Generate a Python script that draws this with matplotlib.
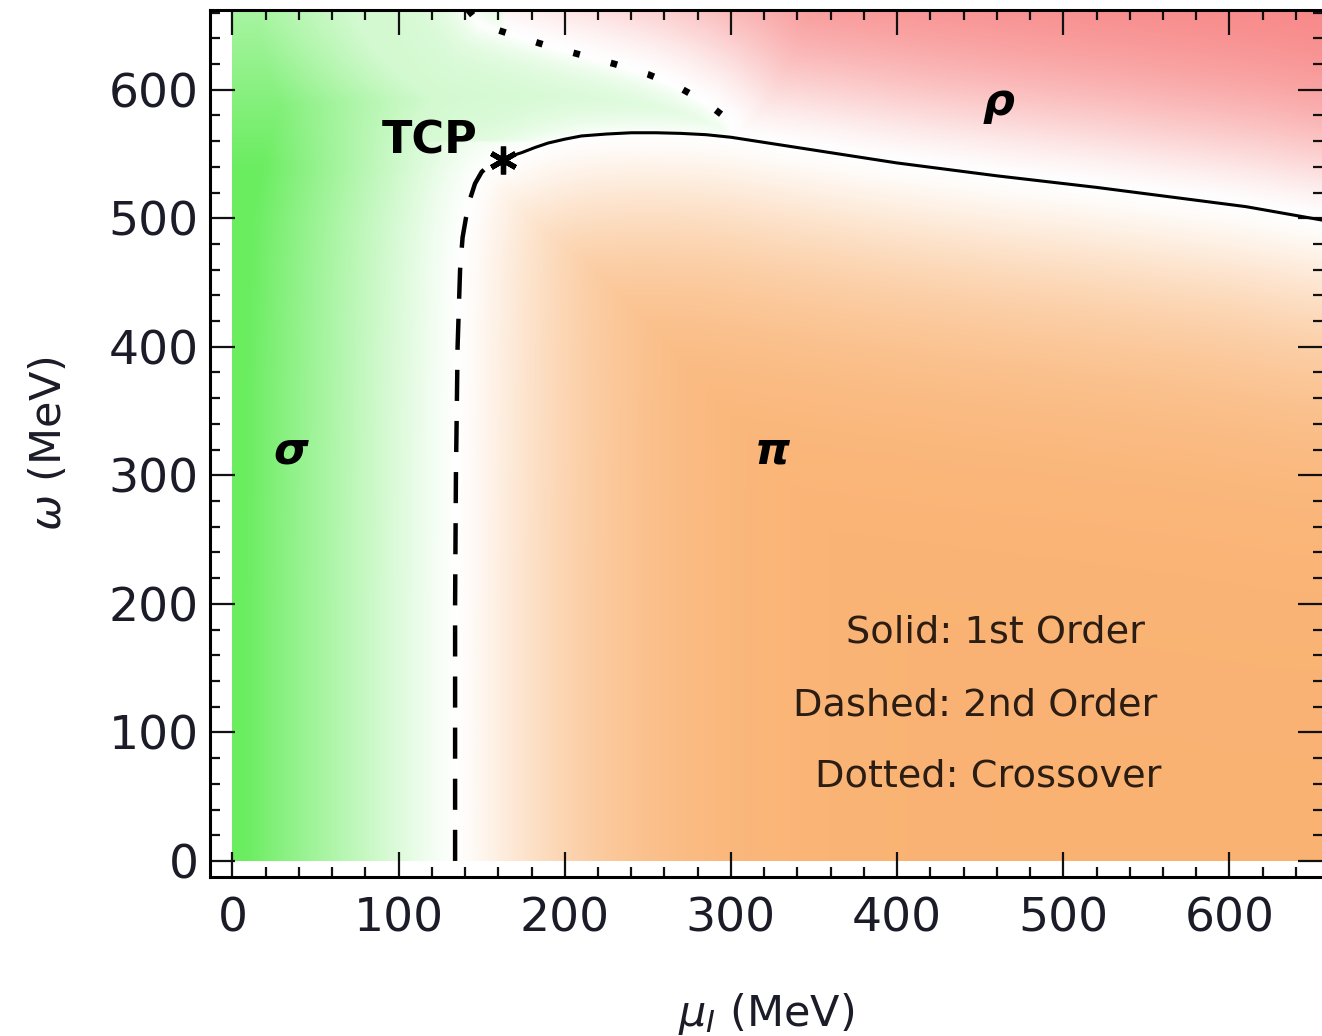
import numpy as np
import matplotlib.pyplot as plt

# Phase boundaries (MeV)
dashedY = [0, 100, 200, 300, 400, 460, 485, 500, 515, 527, 536, 542, 545]
dashedX = [134, 134, 134, 134.5, 135.5, 137, 138.5, 140.5, 143, 146, 150, 155, 163]

solidX = [163, 168, 174, 182, 190, 200, 210, 225, 240, 255, 270, 285, 300, 315,
          330, 350, 375, 400, 430, 460, 490, 520, 550, 580, 610, 656]
solidY = [545, 548.5, 551, 555, 558.5, 561.5, 564, 565.5, 566.5, 566.5, 566, 565,
          563, 560, 557, 553, 548, 543, 538, 533, 528.5, 524, 519, 514, 509, 498.5]

dottedX = [142, 149, 170, 190, 210, 230, 250, 267, 285, 300]
dottedY = [662, 651, 642, 634, 627, 620, 612, 603, 590, 575]

tcp = (163, 545)

xTicks = [0, 100, 200, 300, 400, 500, 600]
yTicks = [0, 100, 200, 300, 400, 500, 600]

xMin, xMax = -13.5, 656.5
yMin, yMax = -12.5, 662

# pixels per MeV on each axis, used to shade by on-screen distance
sx, sy = 1.66, 1.285

green = np.array([0.42, 0.93, 0.38])
orange = np.array([0.98, 0.70, 0.45])
red = np.array([0.97, 0.50, 0.50])


def resample(xs, ys, n=200):
    # points spaced evenly along a polyline
    xs, ys = np.asarray(xs, float), np.asarray(ys, float)
    seg = np.hypot(np.diff(xs) * sx, np.diff(ys) * sy)
    s = np.concatenate([[0], np.cumsum(seg)])
    t = np.linspace(0, s[-1], n)
    return np.interp(t, s, xs), np.interp(t, s, ys)


def shading():
    gx = np.linspace(0, xMax, 330)
    gy = np.linspace(0, yMax, 330)
    X, Y = np.meshgrid(gx, gy)

    # distance (in pixels) to the nearest phase boundary
    pts = [resample(dashedX, dashedY), resample(solidX, solidY),
           resample(dottedX, dottedY), resample([300, 300], [575, 563], 10)]
    d2 = np.full(X.shape, np.inf)
    for px, py in pts:
        for a, b in zip(px, py):
            d2 = np.minimum(d2, ((X - a) * sx) ** 2 + ((Y - b) * sy) ** 2)
    d = np.sqrt(d2)

    solidAt = np.interp(X, solidX, solidY)
    dashAt = np.interp(Y, dashedY, dashedX)
    dotAt = np.interp(Y, dottedY[::-1], dottedX[::-1])

    pi = ((X >= tcp[0]) & (Y < solidAt)) | \
        ((X < tcp[0]) & (Y <= tcp[1]) & (X > dashAt))
    rho = (~pi) & (X > tcp[0]) & (Y >= solidAt) & \
        (((Y < 575) & (X > 300)) | ((Y >= 575) & (X > dotAt)))
    sigma = ~pi & ~rho

    tSig = np.clip(d / 210, 0, 1) ** 1.15 * (1 - 0.4 * np.clip((Y - 540) / 120, 0, 1))
    tSig = np.maximum(tSig, 0.3 * (1 - np.exp(-d / 25)) * (Y > 560))
    tPi = 1 - np.exp(-(d / 130) ** 1.3)
    tRho = 1 - np.exp(-(d / 110) ** 1.5)

    img = np.ones(X.shape + (3,))
    for mask, t, c in [(sigma, tSig, green), (pi, tPi, orange), (rho, tRho, red)]:
        tt = np.where(mask, t, 0)[..., None]
        img = img * (1 - tt) + c * tt
    return img


fig = plt.figure(figsize=(13.22, 10.36), dpi=100)
ax = fig.add_axes([210 / 1322, 159 / 1036, 1 - 210 / 1322 + 0.001, 867 / 1036])

ax.imshow(shading(), extent=[0, xMax, 0, yMax], origin="lower",
          aspect="auto", interpolation="bilinear", zorder=0)

ax.plot(dashedX, dashedY, c="black", lw=3.2, ls=(0, (7, 4.5)), zorder=2)
ax.plot(solidX, solidY, c="black", lw=2.2, zorder=2)
ax.plot(dottedX, dottedY, c="black", lw=4.8, ls=(0, (1, 4.8)), zorder=2)
ax.plot(*tcp, marker=(6, 2, 0), ms=20, mew=3.8, c="black", zorder=3)

ax.text(119, 560, "TCP", fontsize=32, fontweight="bold", ha="center", va="center")
ax.text(35, 319, "σ", fontsize=32, fontweight="bold", style="italic", ha="center", va="center")
ax.text(325, 319, "π", fontsize=32, fontweight="bold", style="italic", ha="center", va="center")
ax.text(461, 590, "ρ", fontsize=32, fontweight="bold", style="italic", ha="center", va="center")

noteColor = "#2b1d14"
ax.text(459, 178, "Solid: 1st Order", fontsize=27.5, color=noteColor, ha="center", va="center")
ax.text(447, 121, "Dashed: 2nd Order", fontsize=27.5, color=noteColor, ha="center", va="center")
ax.text(455, 66, "Dotted: Crossover", fontsize=27.5, color=noteColor, ha="center", va="center")

ax.set_xlim(xMin, xMax)
ax.set_ylim(yMin, yMax)
ax.set_xticks(xTicks)
ax.set_yticks(yTicks)
ax.set_xticks(np.arange(0, 660, 20), minor=True)
ax.set_yticks(np.arange(0, 662, 20), minor=True)
ax.tick_params(which="both", direction="in", top=True, right=True, width=1.6, colors="#111111")
ax.tick_params(which="major", length=18)
ax.tick_params(which="minor", length=7)
ax.tick_params(axis="x", labelsize=34, pad=14, labelcolor="#1c1c28")
ax.tick_params(axis="y", labelsize=34, pad=8, labelcolor="#1c1c28")
for sp in ax.spines.values():
    sp.set_linewidth(2.2)

ax.set_xlabel(r"$\mu_I$ (MeV)", fontsize=31, labelpad=36, color="#1c1c28")
ax.set_ylabel(r"$\omega$ (MeV)", fontsize=31, labelpad=28, color="#1c1c28")

fig.savefig("out.png", dpi=100)
